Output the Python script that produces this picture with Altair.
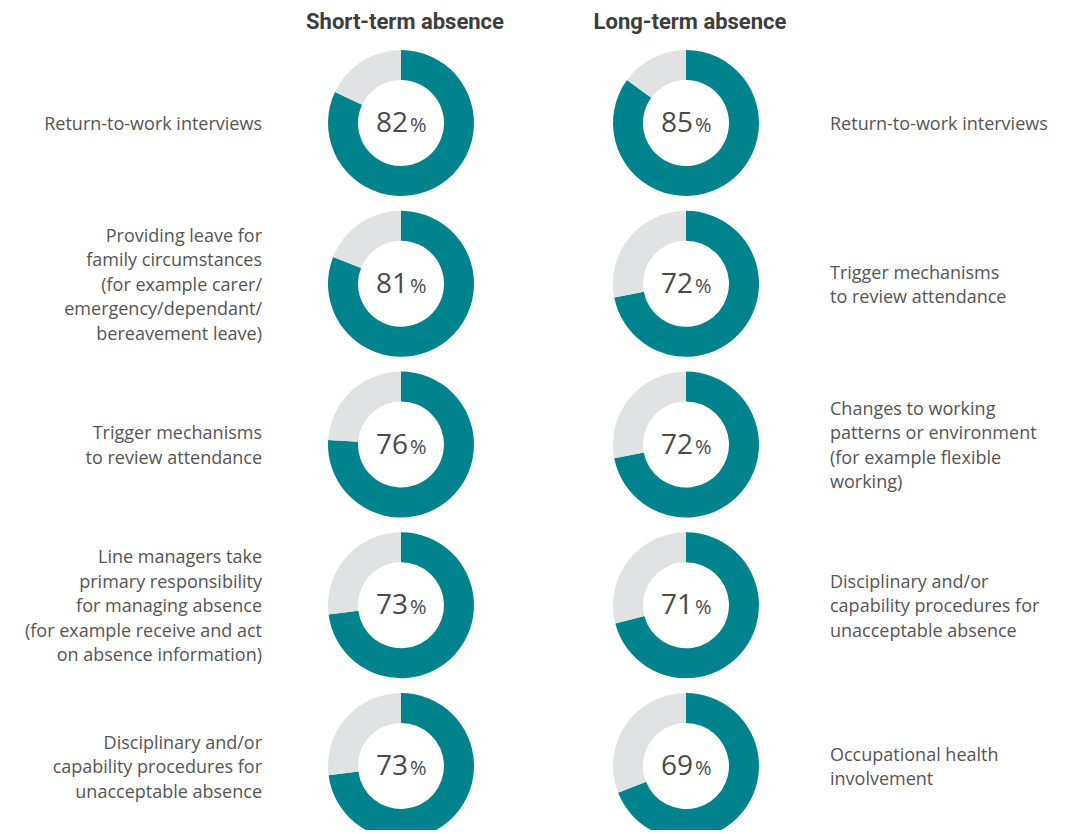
import altair as alt
import pandas as pd

column_titles = ["Short-term absence", "Long-term absence"]

short_labels = [
    "Return-to-work interviews",
    "Providing leave for\nfamily circumstances\n(for example carer/\nemergency/dependant/\nbereavement leave)",
    "Trigger mechanisms\nto review attendance",
    "Line managers take\nprimary responsibility\nfor managing absence\n(for example receive and act\non absence information)",
    "Disciplinary and/or\ncapability procedures for\nunacceptable absence",
]
short_values = [82, 81, 76, 73, 73]

long_labels = [
    "Return-to-work interviews",
    "Trigger mechanisms\nto review attendance",
    "Changes to working\npatterns or environment\n(for example flexible\nworking)",
    "Disciplinary and/or\ncapability procedures for\nunacceptable absence",
    "Occupational health\ninvolvement",
]
long_values = [85, 72, 72, 71, 69]

items = []
arcs = []
for c, (labels, values) in enumerate([(short_labels, short_values), (long_labels, long_values)]):
    for r, (lab, v) in enumerate(zip(labels, values)):
        items.append({"col": c, "row": r, "label": lab, "value": v, "pct": "%"})
        arcs.append({"col": c, "row": r, "seg": "yes", "start": 0, "end": v})
        arcs.append({"col": c, "row": r, "seg": "no", "start": v, "end": 100})

items_df = pd.DataFrame(items)
arcs_df = pd.DataFrame(arcs)
titles_df = pd.DataFrame({"col": [0, 1], "title": column_titles})

ROW_TOP, ROW_BOTTOM = 115, 758
LINE_H = 24.5
ROW_PX = (ROW_BOTTOM - ROW_TOP) / 4

xs = alt.Scale(domain=[0, 1], range=[393, 678])
ys = alt.Scale(domain=[0, 4], range=[ROW_TOP, ROW_BOTTOM])
X = alt.X("col:Q", scale=xs, axis=None)
Y = alt.Y("row:Q", scale=ys, axis=None)
YL = alt.Y("lrow:Q", scale=ys, axis=None)

donuts = alt.Chart(arcs_df).mark_arc(outerRadius=73, innerRadius=43).encode(
    x=X, y=Y,
    theta=alt.Theta("start:Q", scale=alt.Scale(domain=[0, 100])),
    theta2="end:Q",
    color=alt.Color("seg:N", scale=alt.Scale(domain=["yes", "no"], range=["#00838d", "#e1e2e4"]), legend=None),
)

num = alt.Chart(items_df).mark_text(
    align="right", baseline="alphabetic", dx=7, dy=9, fontSize=28, font="Open Sans", color="#4a4a4a"
).encode(x=X, y=Y, text="value:Q")

pct = alt.Chart(items_df).mark_text(
    align="left", baseline="alphabetic", dx=9, dy=9, fontSize=20, font="Open Sans", color="#4a4a4a"
).encode(x=X, y=Y, text="pct:N")

label_base = alt.Chart(items_df).transform_calculate(
    lrow=f"datum.row - (length(split(datum.label, '\\n')) - 1) * {LINE_H / 2} / {ROW_PX}"
)

left_lab = label_base.transform_filter("datum.col == 0").mark_text(
    align="right", baseline="middle", dx=-139, dy=2, fontSize=18, font="Open Sans", color="#555555",
    lineBreak="\n", lineHeight=LINE_H
).encode(x=X, y=YL, text="label:N")

right_lab = label_base.transform_filter("datum.col == 1").mark_text(
    align="left", baseline="middle", dx=144, dy=2, fontSize=18, font="Open Sans", color="#555555",
    lineBreak="\n", lineHeight=LINE_H
).encode(x=X, y=YL, text="label:N")

titles = alt.Chart(titles_df).mark_text(
    align="center", baseline="middle", dx=4, fontSize=22, font="Roboto", fontWeight="bold", color="#3d3d3d"
).encode(x=X, y=alt.value(14), text="title:N")

chart = alt.layer(donuts, num, pct, left_lab, right_lab, titles).properties(
    width=1049, height=822, padding=0, autosize="none"
).configure_view(stroke=None)

chart.save("out.html", embed_options={"renderer": "svg", "actions": False})
